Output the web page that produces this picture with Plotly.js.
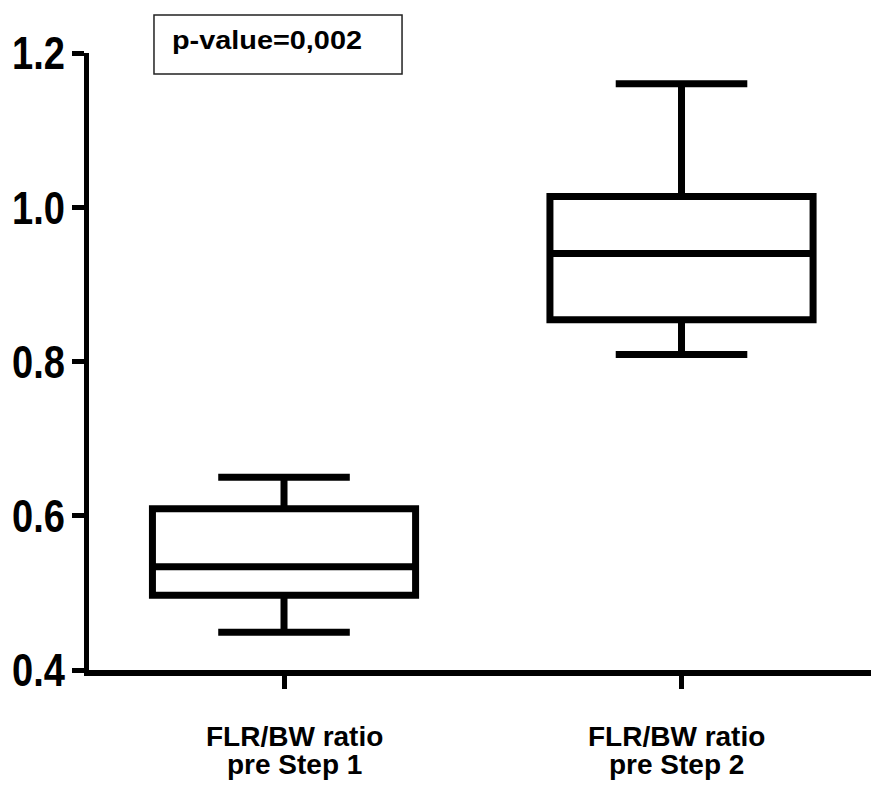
<!DOCTYPE html>
<html>
<head>
<meta charset="utf-8">
<script src="https://cdn.plot.ly/plotly-3.0.1.min.js"></script>
<style>
html,body{margin:0;padding:0;background:#fff;}
#chart{width:871px;height:790px;}
</style>
</head>
<body>
<div id="chart"></div>
<script>
// Data
var categories = ["FLR/BW ratio pre Step 1", "FLR/BW ratio pre Step 2"];
var labelLine1 = ["FLR/BW ratio", "FLR/BW ratio"];
var labelLine2 = ["pre Step 1", "pre Step 2"];
var lowerWhisker = [0.449, 0.809];
var q1Values = [0.497, 0.854];
var medianValues = [0.534, 0.940];
var q3Values = [0.609, 1.014];
var upperWhisker = [0.650, 1.160];
var yTickVals = [0.4, 0.6, 0.8, 1.0, 1.2];
var yTickText = ["0.4", "0.6", "0.8", "1.0", "1.2"];
var pValueText = "p-value=0,002";

// styling (not data)
var labelShift = [10, -5];
var labelFont = {family: "Liberation Sans, Arial, sans-serif", size: 28, color: "#000", weight: "bold"};

var trace = {
  type: "box",
  x: categories,
  q1: q1Values,
  median: medianValues,
  q3: q3Values,
  lowerfence: lowerWhisker,
  upperfence: upperWhisker,
  boxpoints: false,
  width: 0.662,
  whiskerwidth: 0.5,
  fillcolor: "#ffffff",
  line: {color: "#000000", width: 7},
  hoverinfo: "skip",
  showlegend: false
};

var annotations = [];
for (var i = 0; i < categories.length; i++) {
  annotations.push({
    xref: "x", yref: "paper", x: categories[i], y: -0.1084, xshift: labelShift[i],
    xanchor: "center", yanchor: "middle", showarrow: false,
    text: labelLine1[i], font: labelFont
  });
  annotations.push({
    xref: "x", yref: "paper", x: categories[i], y: -0.1538, xshift: labelShift[i],
    xanchor: "center", yanchor: "middle", showarrow: false,
    text: labelLine2[i], font: labelFont
  });
}
annotations.push({
  xref: "paper", yref: "paper", x: 0.1045, y: 1.0204,
  xanchor: "left", yanchor: "middle", showarrow: false,
  text: pValueText, align: "left",
  font: {family: "Liberation Sans, Arial, sans-serif", size: 25, color: "#000", weight: "bold"}
});

var layout = {
  width: 871, height: 790,
  margin: {l: 89, r: 0, t: 53, b: 120, pad: 0},
  paper_bgcolor: "#fff", plot_bgcolor: "#fff",
  showlegend: false,
  xaxis: {
    type: "category",
    range: [-0.4906, 1.4767],
    showgrid: false, zeroline: false,
    showline: true, linecolor: "#000", linewidth: 6,
    ticks: "outside", ticklen: 13, tickwidth: 5, tickcolor: "#000",
    showticklabels: false,
    fixedrange: true
  },
  yaxis: {
    range: [0.4, 1.2],
    tickvals: yTickVals, ticktext: yTickText,
    showgrid: false, zeroline: false,
    showline: true, linecolor: "#000", linewidth: 5,
    ticks: "outside", ticklen: 12, tickwidth: 5, tickcolor: "#000",
    tickfont: {family: "Liberation Sans, Arial, sans-serif", size: 47, color: "#000", weight: "bold"},
    fixedrange: true
  },
  shapes: [{
    type: "rect", xref: "paper", yref: "paper",
    x0: 0.0831, x1: 0.4003, y0: 0.966, y1: 1.0616,
    line: {color: "#222", width: 1.5}, fillcolor: "rgba(0,0,0,0)"
  }],
  annotations: annotations
};

function shiftEl(el, dx, dy) {
  var tr = el.getAttribute("transform") || "";
  el.setAttribute("transform", tr + " translate(" + dx.toFixed(2) + "," + dy.toFixed(2) + ")");
}

Plotly.newPlot("chart", [trace], layout, {displayModeBar: false, staticPlot: true}).then(function () {
  var host = document.getElementById("chart").getBoundingClientRect();
  // condensed look of the y tick labels, right edge kept next to the tick
  document.querySelectorAll("#chart .ytick text").forEach(function (t) {
    var w = t.getComputedTextLength();
    t.setAttribute("lengthAdjust", "spacingAndGlyphs");
    t.setAttribute("textLength", (w * 0.81).toFixed(1));
    var r = t.getBoundingClientRect();
    shiftEl(t, 65 - (r.right - host.left), 0);
  });
  // widened p-value text
  document.querySelectorAll("#chart .annotation-text").forEach(function (t) {
    if (t.textContent === pValueText) {
      t.setAttribute("lengthAdjust", "spacingAndGlyphs");
      t.setAttribute("textLength", "190");
      var r = t.getBoundingClientRect();
      shiftEl(t, 172 - (r.left - host.left), 26.4 - (r.top - host.top));
    }
  });
});
</script>
</body>
</html>
